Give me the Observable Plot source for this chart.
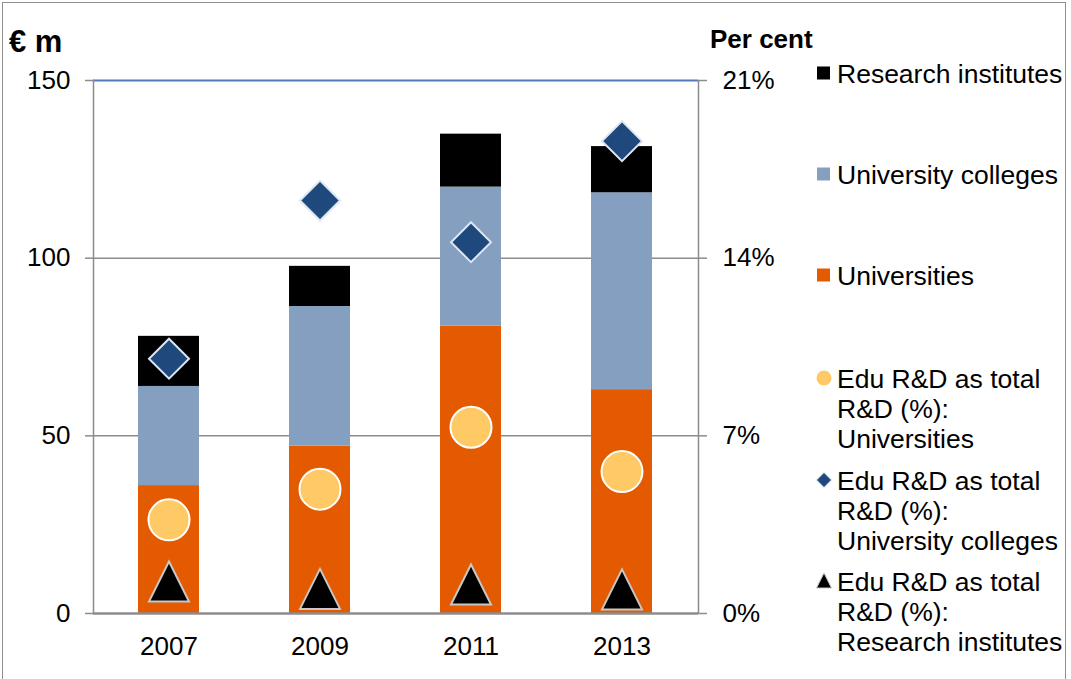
<!DOCTYPE html>
<html>
<head>
<meta charset="utf-8">
<script src="https://cdn.jsdelivr.net/npm/d3@7"></script>
<script src="https://cdn.jsdelivr.net/npm/@observablehq/plot@0.6"></script>
<style>
  html, body { margin: 0; padding: 0; background: #fff; }
  #wrap { position: relative; width: 1071px; height: 679px; overflow: hidden; font-family: "Liberation Sans", Arial, sans-serif; }
  #border { position: absolute; left: 2px; top: 2px; width: 1064px; height: 720px; border: 1.5px solid #8f8f8f; box-sizing: border-box; pointer-events: none; }
  #chart { position: absolute; left: 0; top: 0; }
</style>
</head>
<body>
<div id="wrap"><div id="chart"></div><div id="border"></div></div>
<script>
// ---- data ----
const years = ["2007", "2009", "2011", "2013"];
const seriesNames = ["Universities", "University colleges", "Research institutes"];
const universities = [36.0, 47.1, 80.9, 63.0];
const universityColleges = [27.9, 39.3, 39.1, 55.4];
const researchInstitutes = [14.1, 11.3, 14.9, 13.0];
const pctUniversities = [3.69, 4.90, 7.34, 5.59];
const pctColleges = [10.04, 16.27, 14.63, 18.61];
const pctResearch = [1.26, 0.97, 1.14, 0.95];
const leftTicks = [0, 50, 100, 150];
const rightTickLabels = ["0%", "7%", "14%", "21%"];
const pctMax = 21, eurMax = 150;
const barColors = ["#e35a00", "#849fc0", "#000000"];

// ---- tables ----
const stacked = [];
years.forEach((y, i) => {
  stacked.push({year: y, series: seriesNames[0], value: universities[i]});
  stacked.push({year: y, series: seriesNames[1], value: universityColleges[i]});
  stacked.push({year: y, series: seriesNames[2], value: researchInstitutes[i]});
});
const toEur = p => p * eurMax / pctMax;
const pts = (arr) => years.map((y, i) => ({year: y, pct: arr[i]}));

const diamondSym = {draw(ctx, size) { const r = Math.sqrt(size / Math.PI); ctx.moveTo(0, -r); ctx.lineTo(r, 0); ctx.lineTo(0, r); ctx.lineTo(-r, 0); ctx.closePath(); }};
const triangleSym = {draw(ctx, size) { const r = Math.sqrt(size / Math.PI); ctx.moveTo(0, -r); ctx.lineTo(r, r); ctx.lineTo(-r, r); ctx.closePath(); }};

const grey = "#8c8c8c";
const chart = Plot.plot({
  width: 1071, height: 679,
  marginLeft: 93, marginRight: 373, marginTop: 80, marginBottom: 66,
  style: {fontFamily: "'Liberation Sans', Arial, sans-serif", fontSize: "26px", color: "#000", background: "transparent"},
  x: {domain: years, paddingInner: 0.595, paddingOuter: 0.2975, label: null},
  y: {domain: [0, eurMax], label: null},
  color: {domain: seriesNames, range: barColors},
  marks: [
    Plot.ruleY([50, 100], {stroke: grey, strokeWidth: 1.5}),
    Plot.ruleY([150], {stroke: "#5379b8", strokeWidth: 2}),
    Plot.barY(stacked, {x: "year", y: "value", fill: "series", order: seriesNames}),
    Plot.frame({anchor: "left", stroke: grey, strokeWidth: 1.5}),
    Plot.frame({anchor: "right", stroke: grey, strokeWidth: 1.5}),
    Plot.ruleY([0], {stroke: grey, strokeWidth: 2.5}),
    Plot.axisY({anchor: "left", ticks: leftTicks, tickSize: 8, tickPadding: 15, stroke: grey, strokeWidth: 1.5, fill: "#000", label: null}),
    Plot.axisY({anchor: "right", ticks: leftTicks, tickSize: 8, tickPadding: 16, stroke: grey, strokeWidth: 1.5, fill: "#000", label: null,
      tickFormat: d => rightTickLabels[leftTicks.indexOf(d)]}),
    Plot.axisX({tickSize: 0, tickPadding: 23, fill: "#000", label: null}),
    Plot.dot(pts(pctUniversities), {x: "year", y: d => toEur(d.pct), r: 20.5, fill: "#ffc966", stroke: "#fff", strokeWidth: 2}),
    Plot.dot(pts(pctColleges), {x: "year", y: d => toEur(d.pct), r: 20, symbol: diamondSym, fill: "#1f497d", stroke: "#dce6f2", strokeWidth: 2}),
    Plot.dot(pts(pctResearch), {x: "year", y: d => toEur(d.pct), r: 20, symbol: triangleSym, fill: "#000", stroke: "#c8c8c8", strokeWidth: 2})
  ]
});
document.getElementById("chart").appendChild(chart);

// ---- titles & legend ----
const svg = d3.select(chart);
const font = "'Liberation Sans', Arial, sans-serif";
const titles = svg.append("g").attr("text-anchor", "start").attr("font-family", font).attr("font-weight", "bold").attr("fill", "#000");
titles.append("text").attr("x", 9).attr("y", 52).attr("font-size", 31).text("€ m");
titles.append("text").attr("x", 710).attr("y", 48).attr("font-size", 26).text("Per cent");

const lg = svg.append("g").attr("font-family", font).attr("font-size", 26.5).attr("text-anchor", "start").attr("fill", "#000");
const squareItems = [
  {label: "Research institutes", color: barColors[2], cy: 73},
  {label: "University colleges", color: barColors[1], cy: 174},
  {label: "Universities", color: barColors[0], cy: 275}
];
squareItems.forEach(it => {
  lg.append("rect").attr("x", 817).attr("y", it.cy - 6.5).attr("width", 13).attr("height", 13).attr("fill", it.color);
  lg.append("text").attr("x", 837).attr("y", it.cy).attr("dy", "0.36em").text(it.label);
});
const markerItems = [
  {lines: ["Edu R&D as total", "R&D (%):", "Universities"], cy: 378, kind: "circle"},
  {lines: ["Edu R&D as total", "R&D (%):", "University colleges"], cy: 480, kind: "diamond"},
  {lines: ["Edu R&D as total", "R&D (%):", "Research institutes"], cy: 581, kind: "triangle"}
];
markerItems.forEach(it => {
  const cx = 824, cy = it.cy;
  if (it.kind === "circle") lg.append("circle").attr("cx", cx).attr("cy", cy).attr("r", 7.5).attr("fill", "#ffc966");
  if (it.kind === "diamond") lg.append("path").attr("d", `M${cx},${cy-7.5}L${cx+7.5},${cy}L${cx},${cy+7.5}L${cx-7.5},${cy}Z`).attr("fill", "#1f497d").attr("stroke", "#dce6f2").attr("stroke-width", 1);
  if (it.kind === "triangle") lg.append("path").attr("d", `M${cx},${cy-8}L${cx+7.5},${cy+7}L${cx-7.5},${cy+7}Z`).attr("fill", "#000").attr("stroke", "#c8c8c8").attr("stroke-width", 1);
  it.lines.forEach((t, k) => {
    lg.append("text").attr("x", 837).attr("y", cy + k * 30).attr("dy", "0.36em").text(t);
  });
});
</script>
</body>
</html>
